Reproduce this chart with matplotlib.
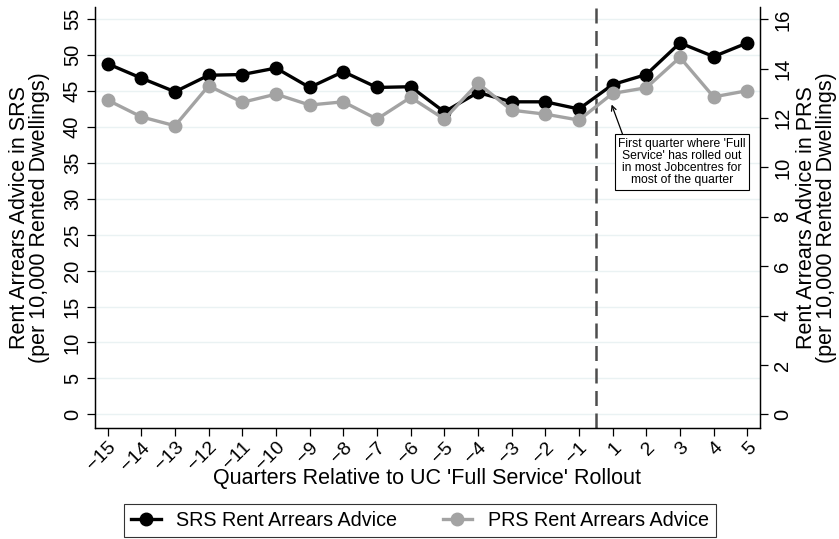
import numpy as np
import matplotlib
matplotlib.use('Agg')
import matplotlib.pyplot as plt
from matplotlib.lines import Line2D

# quarters relative to rollout (no quarter 0)
quarters = [-15, -14, -13, -12, -11, -10, -9, -8, -7, -6, -5, -4, -3, -2, -1, 1, 2, 3, 4, 5]
srs = [48.8, 46.8, 44.9, 47.2, 47.3, 48.2, 45.5, 47.7, 45.5, 45.6, 42.1, 44.8, 43.5, 43.5, 42.5,
       45.9, 47.3, 51.7, 49.8, 51.7]
prs = [12.73, 12.05, 11.69, 13.31, 12.64, 12.97, 12.53, 12.66, 11.96, 12.84, 11.96, 13.41, 12.32,
       12.16, 11.92, 13.0, 13.23, 14.46, 12.86, 13.11]
xlabels = [('\u2212%d' % -q) if q < 0 else str(q) for q in quarters]
left_ticks = np.arange(0, 56, 5)
right_ticks = np.arange(0, 17, 2)

plt.rcParams['font.family'] = ['Liberation Sans', 'DejaVu Sans']

fig = plt.figure(figsize=(8.39, 5.39), dpi=100)
ax = fig.add_axes([0.1132, 0.2065, 0.7926, 0.7805])
ax2 = ax.twinx()

pos = np.arange(len(quarters))
grid_col = '#eaf2f3'
for t in left_ticks:
    ax.axhline(t, color=grid_col, lw=1.0, zorder=0)

ax.plot(pos, srs, color='black', lw=2.4, marker='o', markersize=9, zorder=3)
ax2.plot(pos, prs, color='#a3a3a3', lw=2.4, marker='o', markersize=9, zorder=3)
ax.axvline(14.5, color='#4d4d4d', lw=1.8, dashes=(6, 3), zorder=2)

ax.set_xlim(-0.377, 19.377)
ax.set_ylim(-1.87, 56.7)
ax2.set_ylim(-0.54, 16.5)

ax.set_xticks(pos)
ax.set_xticklabels(xlabels, rotation=45, ha='right', rotation_mode='anchor', fontsize=14)
ax.set_yticks(left_ticks)
ax.set_yticklabels([str(t) for t in left_ticks], rotation=90, va='center', fontsize=14.5)
ax2.set_yticks(right_ticks)
ax2.set_yticklabels([str(t) for t in right_ticks], rotation=90, va='center', fontsize=14.5)

for a in (ax, ax2):
    a.spines['top'].set_visible(False)
    for s in ['left', 'right', 'bottom']:
        a.spines[s].set_linewidth(0.9)
    a.tick_params(length=6, width=0.9, direction='out')
ax.tick_params(axis='x', pad=2)

ax.set_ylabel('Rent Arrears Advice in SRS\n(per 10,000 Rented Dwellings)', fontsize=15.5,
              linespacing=0.95)
ax.yaxis.set_label_coords(-0.068, 0.5)
ax2.set_ylabel('Rent Arrears Advice in PRS\n(per 10,000 Rented Dwellings)', fontsize=15.5,
               linespacing=0.95, rotation=90)
ax2.yaxis.set_label_coords(1.054, 0.5)
ax.set_xlabel("Quarters Relative to UC 'Full Service' Rollout", fontsize=15.5)
ax.xaxis.set_label_coords(0.5, -0.096)

ax2.annotate("First quarter where 'Full\nService' has rolled out\nin most Jobcentres for\nmost of the quarter",
             xy=(14.97, 12.55), xytext=(17.06, 10.22), ha='center', va='center', fontsize=8.7,
             linespacing=1.0,
             bbox=dict(boxstyle='square,pad=0.3', fc='white', ec='black', lw=0.8),
             arrowprops=dict(arrowstyle='->', color='black', lw=0.9, shrinkA=0, shrinkB=0,
                             relpos=(0.045, 1.0)))

handles = [Line2D([], [], color='black', lw=2.4, marker='o', markersize=9),
           Line2D([], [], color='#a3a3a3', lw=2.4, marker='o', markersize=9)]
leg = fig.legend(handles, ['SRS Rent Arrears Advice', 'PRS Rent Arrears Advice'],
                 loc='center', bbox_to_anchor=(420 / 839, 0.035), ncol=2, fontsize=14.2,
                 frameon=True, fancybox=False, edgecolor='black', handlelength=1.5,
                 handletextpad=0.8, columnspacing=2.3, borderpad=0.35)
leg.get_frame().set_linewidth(0.8)

fig.savefig('out.png', dpi=100)
